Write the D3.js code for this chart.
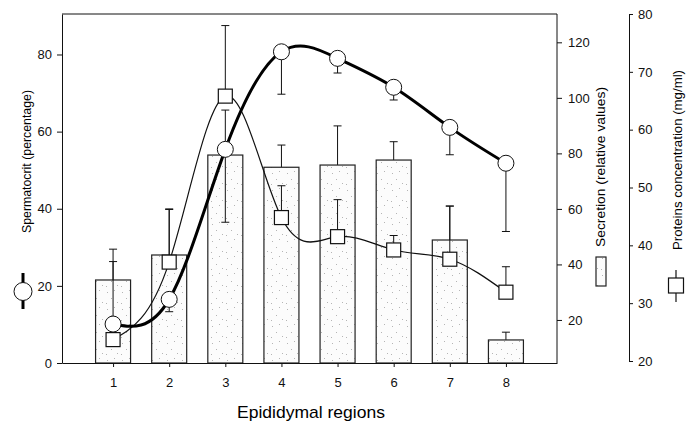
<!DOCTYPE html>
<html>
<head>
<meta charset="utf-8">
<script src="https://cdn.jsdelivr.net/npm/d3@7"></script>
<style>
  body { margin: 0; background: #fff; }
  svg { font-family: "Liberation Sans", Arial, Helvetica, sans-serif; }
  .axis text { font-size: 13px; fill: #111; }
  .axis path, .axis line { stroke: #111; stroke-width: 1; }
</style>
</head>
<body>
<div id="chart"></div>
<script>
// valores
const regiones = [1, 2, 3, 4, 5, 6, 7, 8];
const espermatocrito = [10.1, 16.5, 55.4, 80.7, 79.0, 71.5, 61.1, 51.8];
const espermatocritoErr = [26.3, 13.3, 36.5, 69.7, 75.2, 68.2, 54.0, 34.1];
const secrecion = [34.4, 43.4, 79.4, 75.0, 75.8, 77.6, 48.8, 12.8];
const secrecionErr = [45.5, 60.0, 95.6, 83.0, 89.9, 84.2, 61.0, 15.6];
const proteinas = [23.7, 37.1, 65.8, 44.8, 41.5, 39.2, 37.6, 31.9];
const proteinasErr = [23.7, 46.2, 78.0, 50.3, 47.9, 41.7, 46.8, 36.3];

const ticksEsperm = [0, 20, 40, 60, 80];
const ticksSecrecion = [20, 40, 60, 80, 100, 120];
const ticksProteinas = [20, 30, 40, 50, 60, 70, 80];

const width = 695, height = 426;
const mIzq = 62, mDer = 557, mSup = 14, mInf = 363;

const svg = d3.select("#chart").append("svg")
    .attr("width", width)
    .attr("height", height);

// punteado de las barras
const defs = svg.append("defs");
const pat = defs.append("pattern")
    .attr("id", "punteado")
    .attr("patternUnits", "userSpaceOnUse")
    .attr("width", 15).attr("height", 17);
pat.append("rect").attr("width", 15).attr("height", 17).attr("fill", "#fcfcfc");
[[2, 3], [9, 1], [6, 9], [12, 13], [1, 14]].forEach(p => {
    pat.append("rect").attr("x", p[0]).attr("y", p[1]).attr("width", 1).attr("height", 1).attr("fill", "#b5b5b5");
});

const x = d3.scaleLinear().domain([0.09, 8.91]).range([mIzq, mDer]);
const yEsperm = d3.scaleLinear().domain([0, 90.5]).range([mInf, mSup]);
const ySecr = d3.scaleLinear().domain([4.5, 130.2]).range([mInf, mSup]);
const yProt = d3.scaleLinear().domain([20, 80]).range([361, mSup]);

const anchoBarra = 35;

// barras de secrecion
const gBarras = svg.append("g");
regiones.forEach((r, i) => {
    const cx = x(r);
    gBarras.append("line")
        .attr("x1", cx).attr("x2", cx)
        .attr("y1", ySecr(secrecion[i])).attr("y2", ySecr(secrecionErr[i]))
        .attr("stroke", "#111").attr("stroke-width", 1);
    gBarras.append("line")
        .attr("x1", cx - 4).attr("x2", cx + 4)
        .attr("y1", ySecr(secrecionErr[i])).attr("y2", ySecr(secrecionErr[i]))
        .attr("stroke", "#111").attr("stroke-width", 1);
    gBarras.append("rect")
        .attr("x", cx - anchoBarra / 2)
        .attr("y", ySecr(secrecion[i]))
        .attr("width", anchoBarra)
        .attr("height", mInf - ySecr(secrecion[i]))
        .attr("fill", "url(#punteado)")
        .attr("stroke", "#222").attr("stroke-width", 1.2);
});

// marco
svg.append("path")
    .attr("d", `M${mIzq},${mSup}H${mDer}V${mInf}`)
    .attr("fill", "none").attr("stroke", "#111").attr("stroke-width", 1);

// ejes
svg.append("g").attr("class", "axis")
    .attr("transform", `translate(${mIzq},0)`)
    .call(d3.axisLeft(yEsperm).tickValues(ticksEsperm).tickSize(5).tickSizeOuter(0).tickPadding(5));

svg.append("g").attr("class", "axis")
    .attr("transform", `translate(0,${mInf})`)
    .call(d3.axisBottom(x).tickValues(regiones).tickFormat(d3.format("d")).tickSize(4).tickSizeOuter(0).tickPadding(11));

svg.append("g").attr("class", "axis")
    .attr("transform", `translate(${mDer},0)`)
    .call(d3.axisRight(ySecr).tickValues(ticksSecrecion).tickSize(5).tickSizeOuter(0).tickPadding(6))
    .select(".domain").remove();

svg.append("g").attr("class", "axis")
    .attr("transform", "translate(629,0)")
    .call(d3.axisRight(yProt).tickValues(ticksProteinas).tickSize(4).tickSizeOuter(0).tickPadding(5));

// curvas
const lineaEsperm = d3.line()
    .x((d, i) => x(regiones[i]))
    .y(d => yEsperm(d))
    .curve(d3.curveNatural);
const lineaProt = d3.line()
    .x((d, i) => x(regiones[i]))
    .y(d => yProt(d))
    .curve(d3.curveNatural);

svg.append("path").datum(proteinas)
    .attr("d", lineaProt)
    .attr("fill", "none").attr("stroke", "#111").attr("stroke-width", 1.2);
svg.append("path").datum(espermatocrito)
    .attr("d", lineaEsperm)
    .attr("fill", "none").attr("stroke", "#000").attr("stroke-width", 3);

// barras de error de las curvas
function errores(valores, finales, escala) {
    regiones.forEach((r, i) => {
        const cx = x(r);
        svg.append("line")
            .attr("x1", cx).attr("x2", cx)
            .attr("y1", escala(valores[i])).attr("y2", escala(finales[i]))
            .attr("stroke", "#111").attr("stroke-width", 1);
        svg.append("line")
            .attr("x1", cx - 4).attr("x2", cx + 4)
            .attr("y1", escala(finales[i])).attr("y2", escala(finales[i]))
            .attr("stroke", "#111").attr("stroke-width", 1);
    });
}
errores(espermatocrito, espermatocritoErr, yEsperm);
errores(proteinas, proteinasErr, yProt);

// marcadores
svg.append("g").selectAll("rect")
    .data(proteinas).enter().append("rect")
    .attr("x", (d, i) => x(regiones[i]) - 7)
    .attr("y", d => yProt(d) - 7)
    .attr("width", 14).attr("height", 14)
    .attr("fill", "#fff").attr("stroke", "#111").attr("stroke-width", 1.2);

svg.append("g").selectAll("circle")
    .data(espermatocrito).enter().append("circle")
    .attr("cx", (d, i) => x(regiones[i]))
    .attr("cy", d => yEsperm(d))
    .attr("r", 8)
    .attr("fill", "#fff").attr("stroke", "#111").attr("stroke-width", 1);

// titulos de ejes
svg.append("text")
    .attr("x", 311).attr("y", 418)
    .attr("text-anchor", "middle")
    .attr("font-size", 17)
    .attr("textLength", 148).attr("lengthAdjust", "spacingAndGlyphs")
    .text("Epididymal regions");

svg.append("text")
    .attr("transform", "translate(31,161.5) rotate(-90)")
    .attr("text-anchor", "middle")
    .attr("font-size", 13)
    .attr("textLength", 143).attr("lengthAdjust", "spacingAndGlyphs")
    .text("Spermatocrit (percentage)");

svg.append("text")
    .attr("transform", "translate(605,167) rotate(-90)")
    .attr("text-anchor", "middle")
    .attr("font-size", 13)
    .attr("textLength", 160).attr("lengthAdjust", "spacingAndGlyphs")
    .text("Secretion (relative values)");

svg.append("text")
    .attr("transform", "translate(682,160) rotate(-90)")
    .attr("text-anchor", "middle")
    .attr("font-size", 13)
    .attr("textLength", 180).attr("lengthAdjust", "spacingAndGlyphs")
    .text("Proteins concentration (mg/ml)");

// simbolos de leyenda
svg.append("line").attr("x1", 23).attr("x2", 23).attr("y1", 273).attr("y2", 309)
    .attr("stroke", "#000").attr("stroke-width", 3);
svg.append("circle").attr("cx", 23).attr("cy", 291.5).attr("r", 9)
    .attr("fill", "#fff").attr("stroke", "#111").attr("stroke-width", 1);

svg.append("rect").attr("x", 596).attr("y", 257).attr("width", 10).attr("height", 29)
    .attr("fill", "url(#punteado)").attr("stroke", "#222").attr("stroke-width", 1.2);

svg.append("line").attr("x1", 676).attr("x2", 676).attr("y1", 270).attr("y2", 302)
    .attr("stroke", "#111").attr("stroke-width", 1.2);
svg.append("rect").attr("x", 668.5).attr("y", 278).attr("width", 15).attr("height", 15)
    .attr("fill", "#fff").attr("stroke", "#111").attr("stroke-width", 1.2);
</script>
</body>
</html>
